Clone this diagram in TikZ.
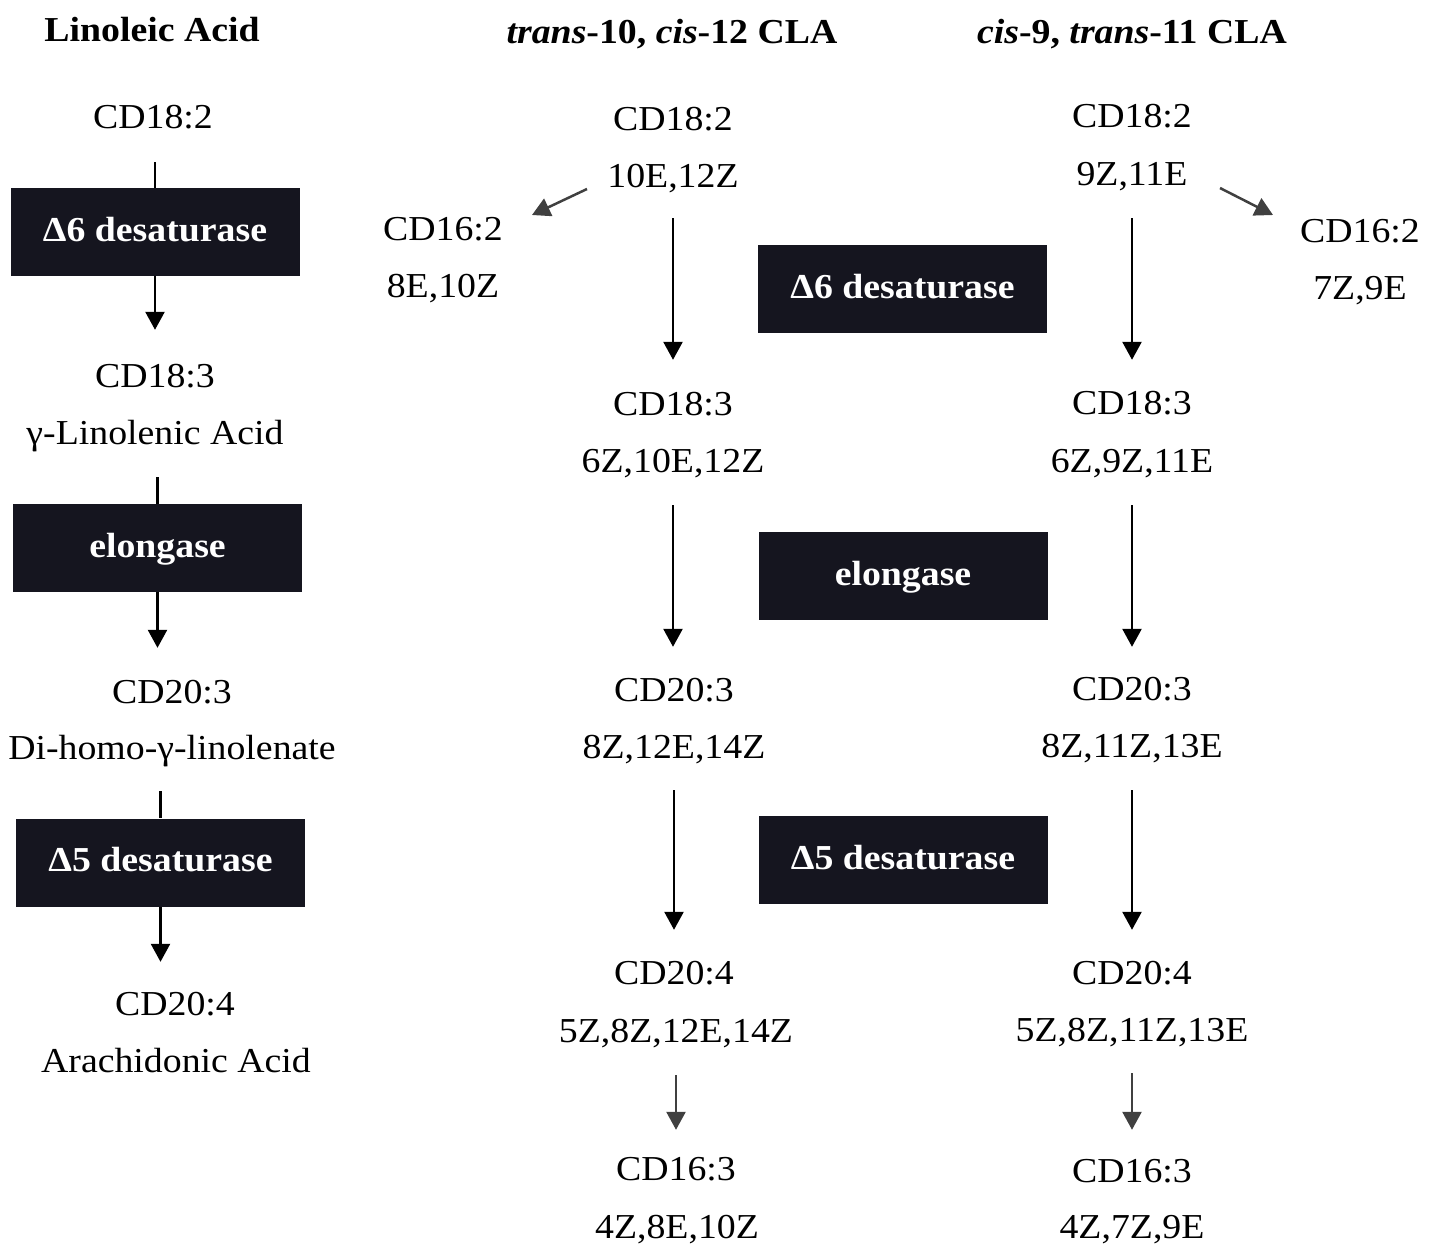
\documentclass[tikz,border=0pt]{standalone}
\usepackage{fontspec}
\setmainfont[FakeStretch=1.08]{Liberation Serif}
\usetikzlibrary{arrows.meta}
\definecolor{enzfill}{HTML}{15151F}
\newcommand{\fs}{\fontsize{35}{42}\selectfont}
\tikzset{
  lbl/.style={inner sep=0pt, text height=24pt, text depth=8pt, anchor=base, font=\fs},
  ttl/.style={lbl, font=\fs\bfseries},
  enz/.style={fill=enzfill, text=white, font=\fs\bfseries, text depth=6pt,
    minimum width=289pt, minimum height=88pt, inner sep=0pt},
  link/.style={line width=2.5pt, draw=black},
  flow/.style={link, -{Triangle[width=19pt,length=18pt]}},
  side/.style={line width=2.5pt, draw=black!75, -{Triangle[width=19pt,length=18pt]}},
}
\begin{document}
\begin{tikzpicture}[x=1pt, y=-1pt]
\useasboundingbox (0,0) rectangle (1433,1245);

% ---------- Linoleic acid pathway ----------
\node[ttl] (L0) at (152,41) {Linoleic Acid};
\node[lbl] (L1) at (153,128) {CD18:2};
\node[enz] (B1) at (155,232) {Δ6 desaturase};
\node[lbl] (L2a) at (155,387) {CD18:3};
\node[lbl] (L2b) at (155,444) {γ-Linolenic Acid};
\node[enz] (B2) at (157.5,548) {elongase};
\node[lbl] (L3a) at (172,703) {CD20:3};
\node[lbl] (L3b) at (172,759) {Di-homo-γ-linolenate};
\node[enz] (B3) at (160.5,862.5) {Δ5 desaturase};
\node[lbl] (L4a) at (175,1015) {CD20:4};
\node[lbl] (L4b) at (176,1072) {Arachidonic Acid};

\draw[link, shorten <=26pt] (B1.north |- L1.south) -- (B1.north);
\draw[flow, shorten >=33pt] (B1.south) -- (B1.south |- L2a.north);
\draw[link, shorten <=25pt] (B2.north |- L2b.south) -- (B2.north);
\draw[flow, shorten >=31pt] (B2.south) -- (B2.south |- L3a.north);
\draw[link, shorten <=24pt] (B3.north |- L3b.south) -- (B3.north);
\draw[flow, shorten >=29pt] (B3.south) -- (B3.south |- L4a.north);

% ---------- trans-10, cis-12 CLA ----------
\node[ttl] (M0) at (672,43) {\textit{trans}-10, \textit{cis}-12 CLA};
\node[lbl] (M1a) at (673,130) {CD18:2};
\node[lbl] (M1b) at (673,187) {10E,12Z};
\node[lbl] (MSa) at (443,240) {CD16:2};
\node[lbl] (MSb) at (443,297) {8E,10Z};
\node[lbl] (M2a) at (673,415) {CD18:3};
\node[lbl] (M2b) at (673,472) {6Z,10E,12Z};
\node[lbl] (M3a) at (674,701) {CD20:3};
\node[lbl] (M3b) at (674,758) {8Z,12E,14Z};
\node[lbl] (M4a) at (674,984) {CD20:4};
\node[lbl] (M4b) at (676,1042) {5Z,8Z,12E,14Z};
\node[lbl] (M5a) at (676,1180) {CD16:3};
\node[lbl] (M5b) at (677,1238) {4Z,8E,10Z};

\coordinate (MSs) at (587,189);
\coordinate (MSe) at (532,215);
\draw[side] (MSs) -- (MSe);

\draw[flow, shorten <=23pt, shorten >=31pt] (M1b.south) -- (M2a.north);
\draw[flow, shorten <=25pt, shorten >=30pt] (M2b.south) -- (M2b.south |- M3a.north);
\draw[flow, shorten <=24pt, shorten >=30pt] (M3b.south) -- (M4a.north);
\draw[side, shorten <=25pt, shorten >=26pt] (M4b.south) -- (M5a.north);

% ---------- cis-9, trans-11 CLA ----------
\node[ttl] (R0) at (1132,43) {\textit{cis}-9, \textit{trans}-11 CLA};
\node[lbl] (R1a) at (1132,127) {CD18:2};
\node[lbl] (R1b) at (1132,185) {9Z,11E};
\node[lbl] (RSa) at (1360,242) {CD16:2};
\node[lbl] (RSb) at (1360,299) {7Z,9E};
\node[lbl] (R2a) at (1132,414) {CD18:3};
\node[lbl] (R2b) at (1132,472) {6Z,9Z,11E};
\node[lbl] (R3a) at (1132,700) {CD20:3};
\node[lbl] (R3b) at (1132,757) {8Z,11Z,13E};
\node[lbl] (R4a) at (1132,984) {CD20:4};
\node[lbl] (R4b) at (1132,1041) {5Z,8Z,11Z,13E};
\node[lbl] (R5a) at (1132,1182) {CD16:3};
\node[lbl] (R5b) at (1132,1238) {4Z,7Z,9E};

\coordinate (RSs) at (1220,188);
\coordinate (RSe) at (1273,215);
\draw[side] (RSs) -- (RSe);

\draw[flow, shorten <=25pt, shorten >=30pt] (R1b.south) -- (R2a.north);
\draw[flow, shorten <=25pt, shorten >=29pt] (R2b.south) -- (R3a.north);
\draw[flow, shorten <=25pt, shorten >=30pt] (R3b.south) -- (R4a.north);
\draw[side, shorten <=24pt, shorten >=28pt] (R4b.south) -- (R5a.north);

% ---------- shared enzymes of the CLA pathways ----------
\node[enz] (E1) at (902.5,289) {Δ6 desaturase};
\node[enz] (E2) at (903,576) {elongase};
\node[enz] (E3) at (903,860) {Δ5 desaturase};
\end{tikzpicture}
\end{document}
